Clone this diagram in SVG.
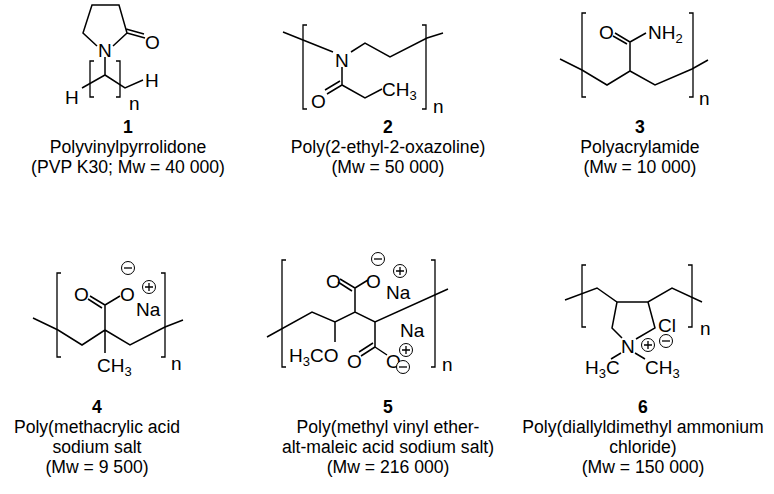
<svg xmlns="http://www.w3.org/2000/svg" width="774" height="494" viewBox="0 0 774 494">
<style>
.b{fill:none;stroke:#000;stroke-width:1.5;stroke-linejoin:miter}
.k{fill:none;stroke:#000;stroke-width:1.3}
text{font-family:"Liberation Sans",Arial,sans-serif;fill:#000}
.a{font-size:19px}
.s{font-size:13px}
.l{font-size:17.6px;text-anchor:middle}
.n{font-size:17.6px;text-anchor:middle;font-weight:bold}
.c{fill:#fff;stroke:#000;stroke-width:1}
</style>
<rect width="774" height="494" fill="#fff"/>
<g id="m1">
<path class="b" d="M97,46 L83,33 L92,5 L119,5 L127,33 L113,46 M127,33 L145,38 M126,29 L144,34 M105,57 L105,75 L82,88 M105,75 L125,88 L143,80"/>
<path class="k" d="M94,61 H90 V97 H94 M116,61 H120 V97 H116"/>
<text class="a" x="98" y="57">N</text>
<text class="a" x="145" y="49">O</text>
<text class="a" x="65" y="104">H</text>
<text class="a" x="145" y="87">H</text>
<text class="a" x="129" y="110">n</text>
<text class="n" x="128" y="133">1</text>
<text class="l" x="128" y="153">Polyvinylpyrrolidone</text>
<text class="l" x="128" y="173">(PVP K30; Mw = 40 000)</text>
</g>
<g id="m2">
<path class="b" d="M283,32 L333,52 M351,52 L365,43 L390,57 L427,38 L443,33 M342,67 L342,85 L327,94 M340,81 L325,90 M342,85 L365,98 L382,89"/>
<path class="k" d="M307,25 H303 V109 H307 M422,25 H426 V109 H422"/>
<text class="a" x="335" y="67">N</text>
<text class="a" x="311" y="108">O</text>
<text class="a" x="382" y="96">CH<tspan class="s" dy="4">3</tspan></text>
<text class="a" x="433" y="113">n</text>
<text class="n" x="388" y="133">2</text>
<text class="l" x="388" y="153">Poly(2-ethyl-2-oxazoline)</text>
<text class="l" x="388" y="173">(Mw = 50 000)</text>
</g>
<g id="m3">
<path class="b" d="M560,59 L582,70 L607,85 L630,71 L630,42 L615,33 M627,44 L613,36 M630,42 L646,33 M630,71 L655,85 L692,69 L708,60"/>
<path class="k" d="M586,13 H582 V97 H586 M689,13 H693 V97 H689"/>
<text class="a" x="599" y="39">O</text>
<text class="a" x="648" y="39">NH<tspan class="s" dy="4">2</tspan></text>
<text class="a" x="699" y="105">n</text>
<text class="n" x="640" y="133">3</text>
<text class="l" x="640" y="153">Polyacrylamide</text>
<text class="l" x="640" y="173">(Mw = 10 000)</text>
</g>
<g id="m4">
<path class="b" d="M33,318 L58,330 L82,345 L105,330 L130,345 L165,327 L183,320 M105,330 L105,305 L90,296 M102,308 L88,299 M105,305 L120,296 M105,330 L105,353"/>
<path class="k" d="M61,273 H57 V357 H61 M161,273 H165 V357 H161"/>
<text class="a" x="74" y="301">O</text>
<text class="a" x="120" y="301">O</text>
<circle class="c" cx="128" cy="268" r="6.5"/><path class="k" d="M124,268 H132"/>
<circle class="c" cx="149" cy="287" r="6.5"/><path class="k" d="M145,287 H153 M149,283 V291"/>
<text class="a" x="136" y="316">Na</text>
<text class="a" x="97" y="372">CH<tspan class="s" dy="4">3</tspan></text>
<text class="a" x="171" y="370">n</text>
<text class="n" x="97" y="413">4</text>
<text class="l" x="97" y="433">Poly(methacrylic acid</text>
<text class="l" x="97" y="453">sodium salt</text>
<text class="l" x="97" y="473">(Mw = 9 500)</text>
</g>
<g id="m5">
<path class="b" d="M267,337 L312,312 L335,322 L355,312 L375,322 L448,289 M355,312 L355,288 L340,279 M352,291 L338,282 M355,288 L368,280 M335,322 L335,342 M375,322 L375,347 L361,356 M373,343 L359,352 M375,347 L387,355"/>
<path class="k" d="M286,260 H282 V367 H286 M431,260 H435 V367 H431"/>
<text class="a" x="326" y="288">O</text>
<text class="a" x="366" y="288">O</text>
<circle class="c" cx="378" cy="259" r="6.5"/><path class="k" d="M374,259 H382"/>
<circle class="c" cx="400" cy="271" r="6.5"/><path class="k" d="M396,271 H404 M400,267 V275"/>
<text class="a" x="386" y="299">Na</text>
<text class="a" x="289" y="362">H<tspan class="s" dy="4">3</tspan><tspan dy="-4">CO</tspan></text>
<text class="a" x="347" y="368">O</text>
<text class="a" x="386" y="368">O</text>
<circle class="c" cx="403" cy="367" r="6.5"/><path class="k" d="M399,367 H407"/>
<text class="a" x="400" y="337">Na</text>
<circle class="c" cx="406" cy="350" r="6.5"/><path class="k" d="M402,350 H410 M406,346 V354"/>
<text class="a" x="442" y="371">n</text>
<text class="n" x="388" y="413">5</text>
<text class="l" x="388" y="433">Poly(methyl vinyl ether-</text>
<text class="l" x="388" y="453">alt-maleic acid sodium salt)</text>
<text class="l" x="388" y="473">(Mw = 216 000)</text>
</g>
<g id="m6">
<path class="b" d="M565,300 L597,288 L617,302 L648,302 L672,288 L702,302 M617,302 L612,328 L622,338 M648,302 L655,328 L636,339 M621,353 L611,359 M635,353 L645,359"/>
<path class="k" d="M586,265 H582 V327 H586 M688,265 H692 V327 H688"/>
<text class="a" x="621" y="353">N</text>
<circle class="c" cx="648" cy="345" r="6.5"/><path class="k" d="M644,345 H652 M648,341 V349"/>
<text class="a" x="658" y="332">Cl</text>
<circle class="c" cx="666" cy="341" r="6.5"/><path class="k" d="M662,341 H670"/>
<text class="a" x="585" y="374">H<tspan class="s" dy="4">3</tspan><tspan dy="-4">C</tspan></text>
<text class="a" x="645" y="374">CH<tspan class="s" dy="4">3</tspan></text>
<text class="a" x="700" y="335">n</text>
<text class="n" x="643" y="413">6</text>
<text class="l" x="643" y="433">Poly(diallyldimethyl ammonium</text>
<text class="l" x="643" y="453">chloride)</text>
<text class="l" x="643" y="473">(Mw = 150 000)</text>
</g>
</svg>
